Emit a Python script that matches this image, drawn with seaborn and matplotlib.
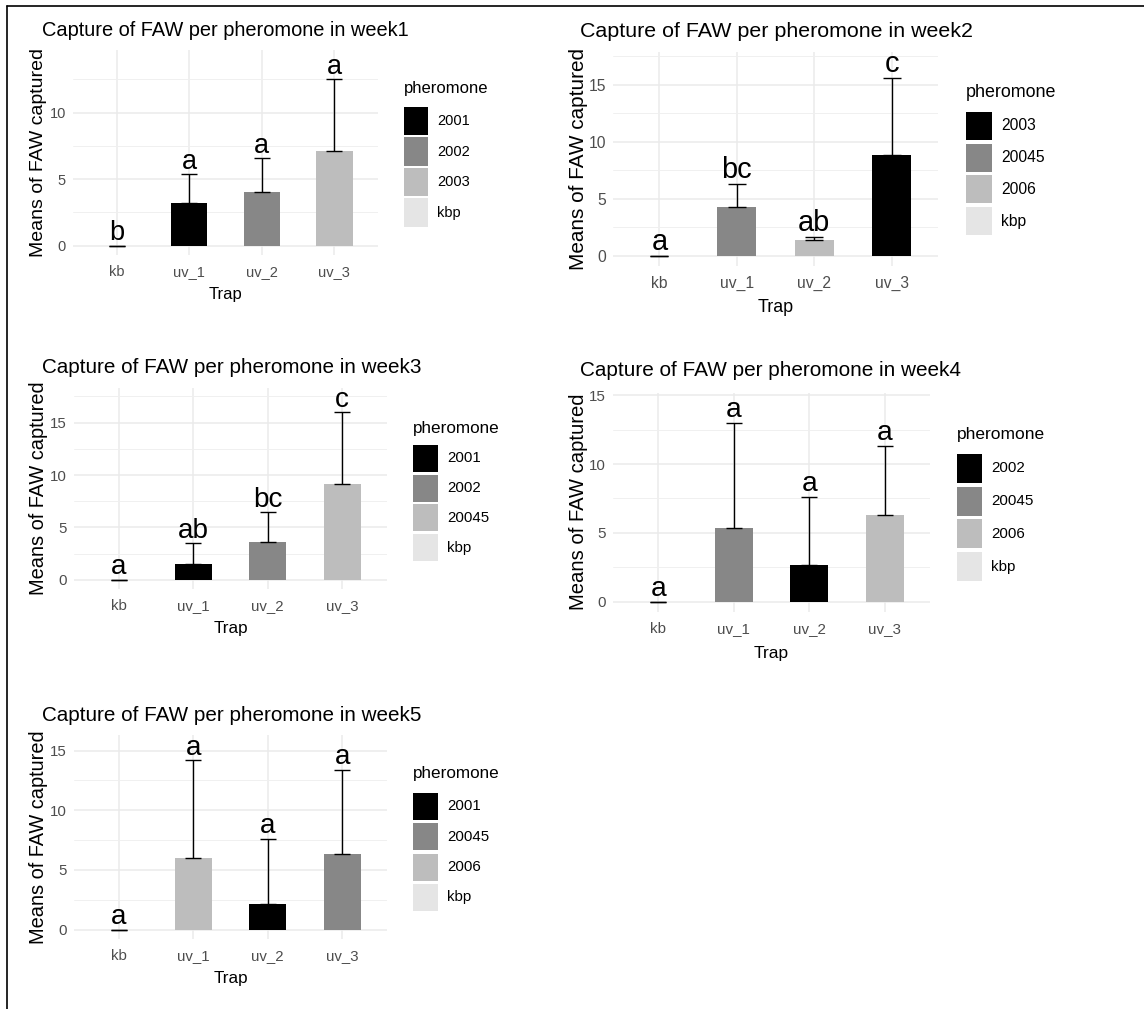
import numpy as np
import pandas as pd
import matplotlib
matplotlib.use("Agg")
import matplotlib.pyplot as plt
from matplotlib.patches import Rectangle
from matplotlib.lines import Line2D
import seaborn as sns

# ---- data -------------------------------------------------------------
traps = ["kb", "uv_1", "uv_2", "uv_3"]

week1_mean = [0.0, 3.22, 4.00, 7.15]
week1_sd = [0.0, 2.16, 2.55, 5.35]
week1_pher = ["kbp", "2001", "2002", "2003"]
week1_levels = ["2001", "2002", "2003", "kbp"]
week1_letters = ["b", "a", "a", "a"]

week2_mean = [0.0, 4.26, 1.40, 8.83]
week2_sd = [0.0, 2.04, 0.29, 6.74]
week2_pher = ["kbp", "20045", "2006", "2003"]
week2_levels = ["2003", "20045", "2006", "kbp"]
week2_letters = ["a", "bc", "ab", "c"]

week3_mean = [0.0, 1.53, 3.63, 9.17]
week3_sd = [0.0, 1.97, 2.83, 6.82]
week3_pher = ["kbp", "2001", "2002", "20045"]
week3_levels = ["2001", "2002", "20045", "kbp"]
week3_letters = ["a", "ab", "bc", "c"]

week4_mean = [0.0, 5.35, 2.69, 6.30]
week4_sd = [0.0, 7.63, 4.94, 5.01]
week4_pher = ["kbp", "20045", "2002", "2006"]
week4_levels = ["2002", "20045", "2006", "kbp"]
week4_letters = ["a", "a", "a", "a"]

week5_mean = [0.0, 5.96, 2.12, 6.30]
week5_sd = [0.0, 8.24, 5.48, 7.07]
week5_pher = ["kbp", "2006", "2001", "20045"]
week5_levels = ["2001", "20045", "2006", "kbp"]
week5_letters = ["a", "a", "a", "a"]

grey_fills = ["#000000", "#878787", "#bdbdbd", "#e5e5e5"]

# ---- style ------------------------------------------------------------
sns.set_style("white")
plt.rcParams["font.family"] = ["Liberation Sans", "DejaVu Sans"]

W, H = 1144, 1009
fig = plt.figure(figsize=(W / 100, H / 100), dpi=100)


def fx(x):
    return x / W


def fy(y):
    return 1 - y / H


# layout of each panel in pixels
panels = [
    dict(week="week1", mean=week1_mean, sd=week1_sd, pher=week1_pher, levels=week1_levels,
         letters=week1_letters, box=(73, 378, 50, 255), ylim=(-0.70, 14.7), s=1.00,
         title=(42, 36), xlab_y=299, ylab_x=38.5, leg=(404, 93, 107, 28, 30.5, 437)),
    dict(week="week2", mean=week2_mean, sd=week2_sd, pher=week2_pher, levels=week2_levels,
         letters=week2_letters, box=(613, 938, 52, 265.7), ylim=(-0.85, 17.85), s=1.07,
         title=(580, 37), xlab_y=312, ylab_x=578, leg=(966, 97, 112, 28, 31.7, 1001)),
    dict(week="week3", mean=week3_mean, sd=week3_sd, pher=week3_pher, levels=week3_levels,
         letters=week3_letters, box=(74, 387, 388, 589), ylim=(-0.87, 18.3), s=1.03,
         title=(42, 373), xlab_y=633, ylab_x=38.5, leg=(413, 433, 445, 27, 29.7, 447)),
    dict(week="week4", mean=week4_mean, sd=week4_sd, pher=week4_pher, levels=week4_levels,
         letters=week4_letters, box=(613, 930, 392.7, 611.6), ylim=(-0.72, 15.18), s=1.04,
         title=(580, 376), xlab_y=658, ylab_x=578, leg=(957, 439, 454, 29, 32.7, 991)),
    dict(week="week5", mean=week5_mean, sd=week5_sd, pher=week5_pher, levels=week5_levels,
         letters=week5_letters, box=(74, 387, 735, 939), ylim=(-0.78, 16.3), s=1.03,
         title=(42, 721), xlab_y=983, ylab_x=38.5, leg=(413, 778, 793, 27, 30.3, 447)),
]

for p in panels:
    x0, x1, y0, y1 = p["box"]
    s = p["s"]
    ax = fig.add_axes([fx(x0), fy(y1), (x1 - x0) / W, (y1 - y0) / H])

    df = pd.DataFrame({"Trap": traps, "mean": p["mean"], "sd": p["sd"],
                       "pheromone": p["pher"]})
    pal = dict(zip(p["levels"], grey_fills))

    sns.barplot(data=df, x="Trap", y="mean", hue="pheromone", order=traps,
                hue_order=p["levels"], palette=pal, dodge=False, width=0.5,
                saturation=1, errorbar=None, linewidth=0, legend=False, ax=ax,
                zorder=3)

    xs = np.arange(len(traps))
    unit_px = (x1 - x0) / 4.2
    cap_pt = 0.11 * unit_px * 72 / 100
    ax.errorbar(xs, df["mean"], yerr=[np.zeros(len(xs)), df["sd"]], fmt="none",
                ecolor="black", elinewidth=1.0, capsize=cap_pt, capthick=1.0, zorder=4)

    tops = df["mean"] + df["sd"]
    for xi, top, lab in zip(xs, tops, p["letters"]):
        ax.annotate(lab, (xi, top), xytext=(0, 4), textcoords="offset points",
                    ha="center", va="baseline", fontsize=19.5 * s, color="black",
                    zorder=5, annotation_clip=False)

    ax.set_yticks([0, 5, 10, 15])
    ax.set_yticks([2.5, 7.5, 12.5, 17.5], minor=True)
    ax.set_xlim(-0.6, 3.6)
    ax.set_ylim(*p["ylim"])
    ax.grid(True, which="major", color="#ebebeb", linewidth=1.1, zorder=0)
    ax.grid(True, which="minor", axis="y", color="#f0f0f0", linewidth=0.7, zorder=0)
    ax.set_axisbelow(True)
    for sp in ax.spines.values():
        sp.set_visible(False)
    ax.tick_params(axis="both", which="both", length=0, colors="#4d4d4d",
                   labelsize=10.5 * s)
    ax.tick_params(axis="x", pad=7.5)
    ax.tick_params(axis="y", pad=5)
    ax.set_xlabel("")
    ax.set_ylabel("")

    # titles
    tx, ty = p["title"]
    fig.text(fx(tx), fy(ty), f"Capture of FAW per pheromone in {p['week']}",
             ha="left", va="baseline", fontsize=14.4 * s, color="black")
    fig.text(fx((x0 + x1) / 2), fy(p["xlab_y"]), "Trap", ha="center", va="baseline",
             fontsize=12.0 * s, color="black")
    fig.text(fx(p["ylab_x"]), fy((y0 + y1) / 2), "Means of FAW captured",
             rotation=90, ha="center", va="center", fontsize=14.0 * s, color="black")

    # legend
    lx, lty, ktop, kh, kstep, labx = p["leg"]
    fig.text(fx(lx), fy(lty), "pheromone", ha="left", va="baseline",
             fontsize=12.0 * s, color="black")
    kw = 24 * s
    for i, (lev, col) in enumerate(zip(p["levels"], grey_fills)):
        top = ktop + i * kstep
        fig.patches.append(Rectangle((fx(lx), fy(top + kh)), kw / W, kh / H,
                                     transform=fig.transFigure, facecolor=col,
                                     edgecolor="none"))
        fig.text(fx(labx), fy(top + kh / 2), lev, ha="left", va="center",
                 fontsize=10.5 * s, color="black")

# page frame lines
fig.add_artist(Line2D([fx(7), fx(1144)], [fy(6), fy(6)], transform=fig.transFigure,
                      color="black", linewidth=1.2))
fig.add_artist(Line2D([fx(7), fx(7)], [fy(6), fy(1009)], transform=fig.transFigure,
                      color="black", linewidth=1.2))

fig.savefig("out.png", dpi=100, facecolor="white")
